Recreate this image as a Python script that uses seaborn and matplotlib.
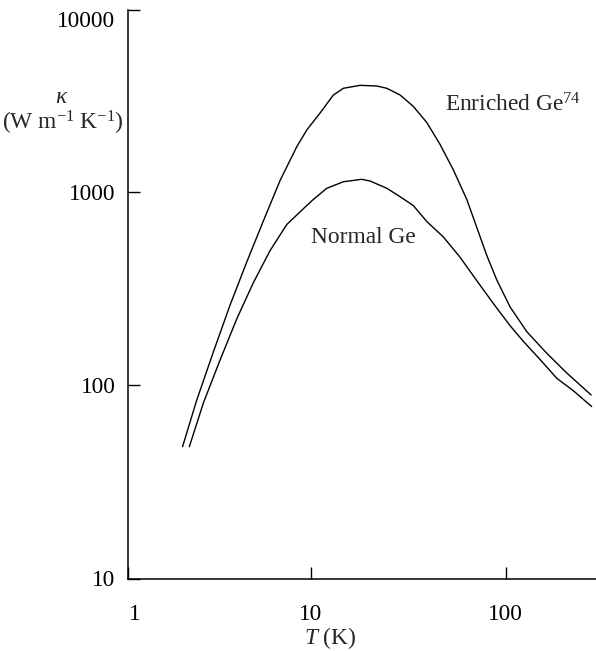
import matplotlib
matplotlib.use("Agg")
import matplotlib.pyplot as plt
import matplotlib.transforms as mtrans
import numpy as np
import pandas as pd
import seaborn as sns

# ---- data ----
T_enriched = [2.201, 2.603, 3.166, 3.857, 4.697, 5.713, 6.960, 8.477, 9.539, 11.16,
              13.06, 14.70, 17.90, 21.81, 24.54, 28.71, 33.59, 39.34, 46.04, 53.86,
              63.10, 71.01, 79.90, 89.91, 105.2, 128.1, 162.3, 205.5, 273.8]
k_enriched = [48.0, 83.6, 148.1, 259.0, 432.2, 703.9, 1140, 1704, 2079, 2545,
              3153, 3415, 3538, 3509, 3415, 3153, 2750, 2273, 1749, 1291,
              909.3, 651.6, 467.0, 348.9, 253.0, 188.6, 145.8, 115.3, 88.8]

T_normal = [2.385, 2.814, 3.427, 4.173, 5.078, 6.184, 7.533, 9.164, 10.31, 12.08,
            14.70, 18.26, 20.14, 24.54, 28.71, 33.59, 39.34, 47.86, 58.29, 71.01,
            86.38, 105.2, 123.1, 150.0, 182.6, 222.2, 275.4]
k_normal = [48.0, 80.7, 134.6, 219.4, 338.0, 495.0, 675.0, 815.0, 910.0, 1039,
            1123, 1156, 1133, 1039, 940.0, 845.0, 699.8, 582.0, 457.1, 345.9,
            263.5, 202.5, 168.0, 135.3, 108.3, 93.3, 77.4]

x_limits = [1.156, 290]
y_limits = [10, 8670]
x_ticks = [1.156, 10, 100]
x_tick_labels = ["1", "10", "100"]
y_ticks = [10, 100, 1000, 8670]
y_tick_labels = ["10", "100", "1000", "10000"]

sns.set_style("ticks")
plt.rcParams["font.family"] = ["Liberation Serif", "DejaVu Serif"]
plt.rcParams["mathtext.fontset"] = "custom"
plt.rcParams["mathtext.rm"] = "Liberation Serif"
plt.rcParams["mathtext.it"] = "Liberation Serif:italic"
plt.rcParams["mathtext.bf"] = "Liberation Serif:bold"

FS = 16.8
W, H = 596, 651
fig = plt.figure(figsize=(W / 100, H / 100), dpi=100)
ax = fig.add_axes([128 / W, (H - 578.5) / H, 1 - 128 / W, (578.5 - 10) / H])

df_e = pd.DataFrame({"T": T_enriched, "k": k_enriched})
df_n = pd.DataFrame({"T": T_normal, "k": k_normal})
sns.lineplot(data=df_e, x="T", y="k", ax=ax, color="black", lw=1.0, sort=False,
             estimator=None)
sns.lineplot(data=df_n, x="T", y="k", ax=ax, color="black", lw=1.0, sort=False,
             estimator=None)

ax.set_xscale("log")
ax.set_yscale("log")
ax.set_xlim(*x_limits)
ax.set_ylim(*y_limits)
ax.xaxis.set_minor_locator(matplotlib.ticker.NullLocator())
ax.yaxis.set_minor_locator(matplotlib.ticker.NullLocator())
ax.set_xticks(x_ticks)
ax.set_xticklabels(x_tick_labels)
ax.set_yticks(y_ticks)
ax.set_yticklabels(y_tick_labels)
ax.set_xlabel("")
ax.set_ylabel("")
ax.tick_params(axis="both", direction="in", length=8.6, width=1.0, labelsize=FS,
               colors="black")
ax.tick_params(axis="x", pad=18)
ax.tick_params(axis="y", pad=9)
sns.despine(ax=ax)
for s in ["left", "bottom"]:
    ax.spines[s].set_linewidth(1.1)
    ax.spines[s].set_color("black")

# label offsets as in the reference
lbl = ax.get_xticklabels()[0]
lbl.set_transform(lbl.get_transform() + mtrans.ScaledTranslation(7 / 100, 0, fig.dpi_scale_trans))
lbl = ax.get_yticklabels()[-1]
lbl.set_transform(lbl.get_transform() + mtrans.ScaledTranslation(0, -9 / 100, fig.dpi_scale_trans))

fig.text(62 / W, 1 - 103 / H, r"$\kappa$", ha="center", va="baseline", fontsize=FS)
fig.text(63 / W, 1 - 130 / H, r"(W m$^{\mathregular{-1}}$ K$^{\mathregular{-1}}$)",
         ha="center", va="baseline", fontsize=FS)
fig.text(330 / W, 1 - 644 / H, r"$T$ (K)", ha="center", va="baseline", fontsize=FS)
fig.text(445 / W, 1 - 112 / H, r"Enriched Ge$^{\mathregular{74}}$", ha="left",
         va="baseline", fontsize=FS)
fig.text(311 / W, 1 - 243.3 / H, "Normal Ge", ha="left", va="baseline", fontsize=FS)

fig.savefig("out.png", dpi=100)
